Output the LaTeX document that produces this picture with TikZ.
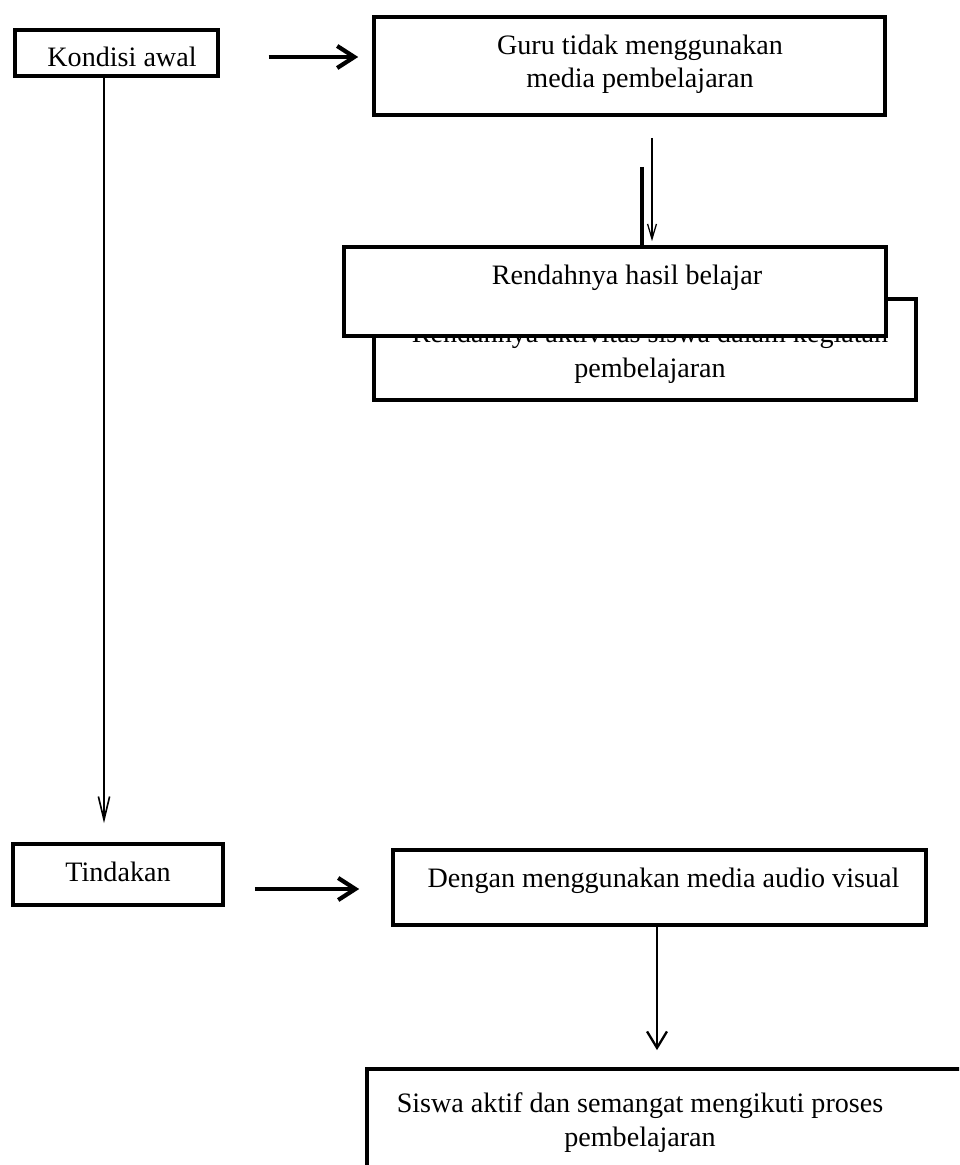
\documentclass[tikz,border=0pt]{standalone}
\usepackage{fontspec}
\setmainfont{Liberation Serif}
\usetikzlibrary{arrows.meta,calc}
\newcommand{\pix}{0.015cm}

\begin{document}
\begin{tikzpicture}[
  x=0.015cm, y=-0.015cm,
  box/.style={draw, line width=1.8pt, fill=white, inner sep=0pt},
  txt/.style={align=center, inner sep=0pt, font=\fontsize{12}{14.2}\selectfont},
  bigarr/.style={-{Straight Barb[length=7.3pt,width=9.4pt]}, line width=1.8pt},
  longarr/.style={-{Straight Barb[length=9.9pt,width=4.8pt]}, line width=0.7pt},
  thinarr/.style={-{Straight Barb[length=6.4pt,width=3.8pt]}, line width=0.55pt},
  midarr/.style={-{Straight Barb[length=7pt,width=8.5pt]}, line width=1pt}
]
\useasboundingbox (0,0) rectangle (959,1165);
\clip (0,0) rectangle (959,1165);
\node[box, minimum width=203*\pix, minimum height=46*\pix] (kon) at (116.5,53) {};
\node[txt] (konT) at (122,56.8) {Kondisi awal};
\node[box, minimum width=511*\pix, minimum height=98*\pix] (guru) at (629.5,66) {};
\node[txt] (guruT) at (640,64.5) {Guru tidak menggunakan\\media pembelajaran};
\node[box, minimum width=542*\pix, minimum height=101*\pix] (akt) at (645,349.5) {};
\node[txt, font=\fontsize{12}{14.9}\selectfont] (aktT) at (650,353.5) {Rendahnya aktivitas siswa dalam kegiatan\\pembelajaran};
\node[box, minimum width=542*\pix, minimum height=89*\pix] (rend) at (615,291.5) {};
\node[txt] (rendT) at (627,278) {Rendahnya hasil belajar};
\node[box, minimum width=210*\pix, minimum height=61*\pix] (tind) at (118,874.5) {};
\node[txt] (tindT) at (118,871.8) {Tindakan};
\node[box, minimum width=533*\pix, minimum height=75*\pix] (media) at (659.5,887.5) {};
\node[txt] (mediaT) at (663.5,881) {Dengan menggunakan media audio visual};
\node[box, minimum width=633*\pix, minimum height=151*\pix] (siswa) at (683.4,1144.4) {};
\node[txt] (siswaT) at (640,1122.5) {Siswa aktif dan semangat mengikuti proses\\pembelajaran};
\coordinate (top1) at (652,138);
\coordinate (top2) at (642,167);
\draw[bigarr, shorten <=48.5*\pix, shorten >=13.7*\pix] ($(kon.east)+(0,4)$) -- ($(guru.west)+(0,-9)$);
\draw[longarr, shorten >=18.7*\pix] ($(kon.south)+(-12.5,0)$) -- ($(tind.north)+(-14,0)$);
\draw[thinarr, shorten >=3.7*\pix] (top1) -- ($(rend.north)+(37,0)$);
\draw[line width=1.6pt] (top2) -- ($(rend.north)+(27,0)$);
\draw[bigarr, shorten <=29.7*\pix, shorten >=31.7*\pix] ($(tind.east)+(0,14.5)$) -- ($(media.west)+(0,1.5)$);
\draw[midarr, shorten >=16.7*\pix] ($(media.south)+(-2.5,0)$) -- ($(siswa.north)+(-26.4,0)$);
\end{tikzpicture}
\end{document}
